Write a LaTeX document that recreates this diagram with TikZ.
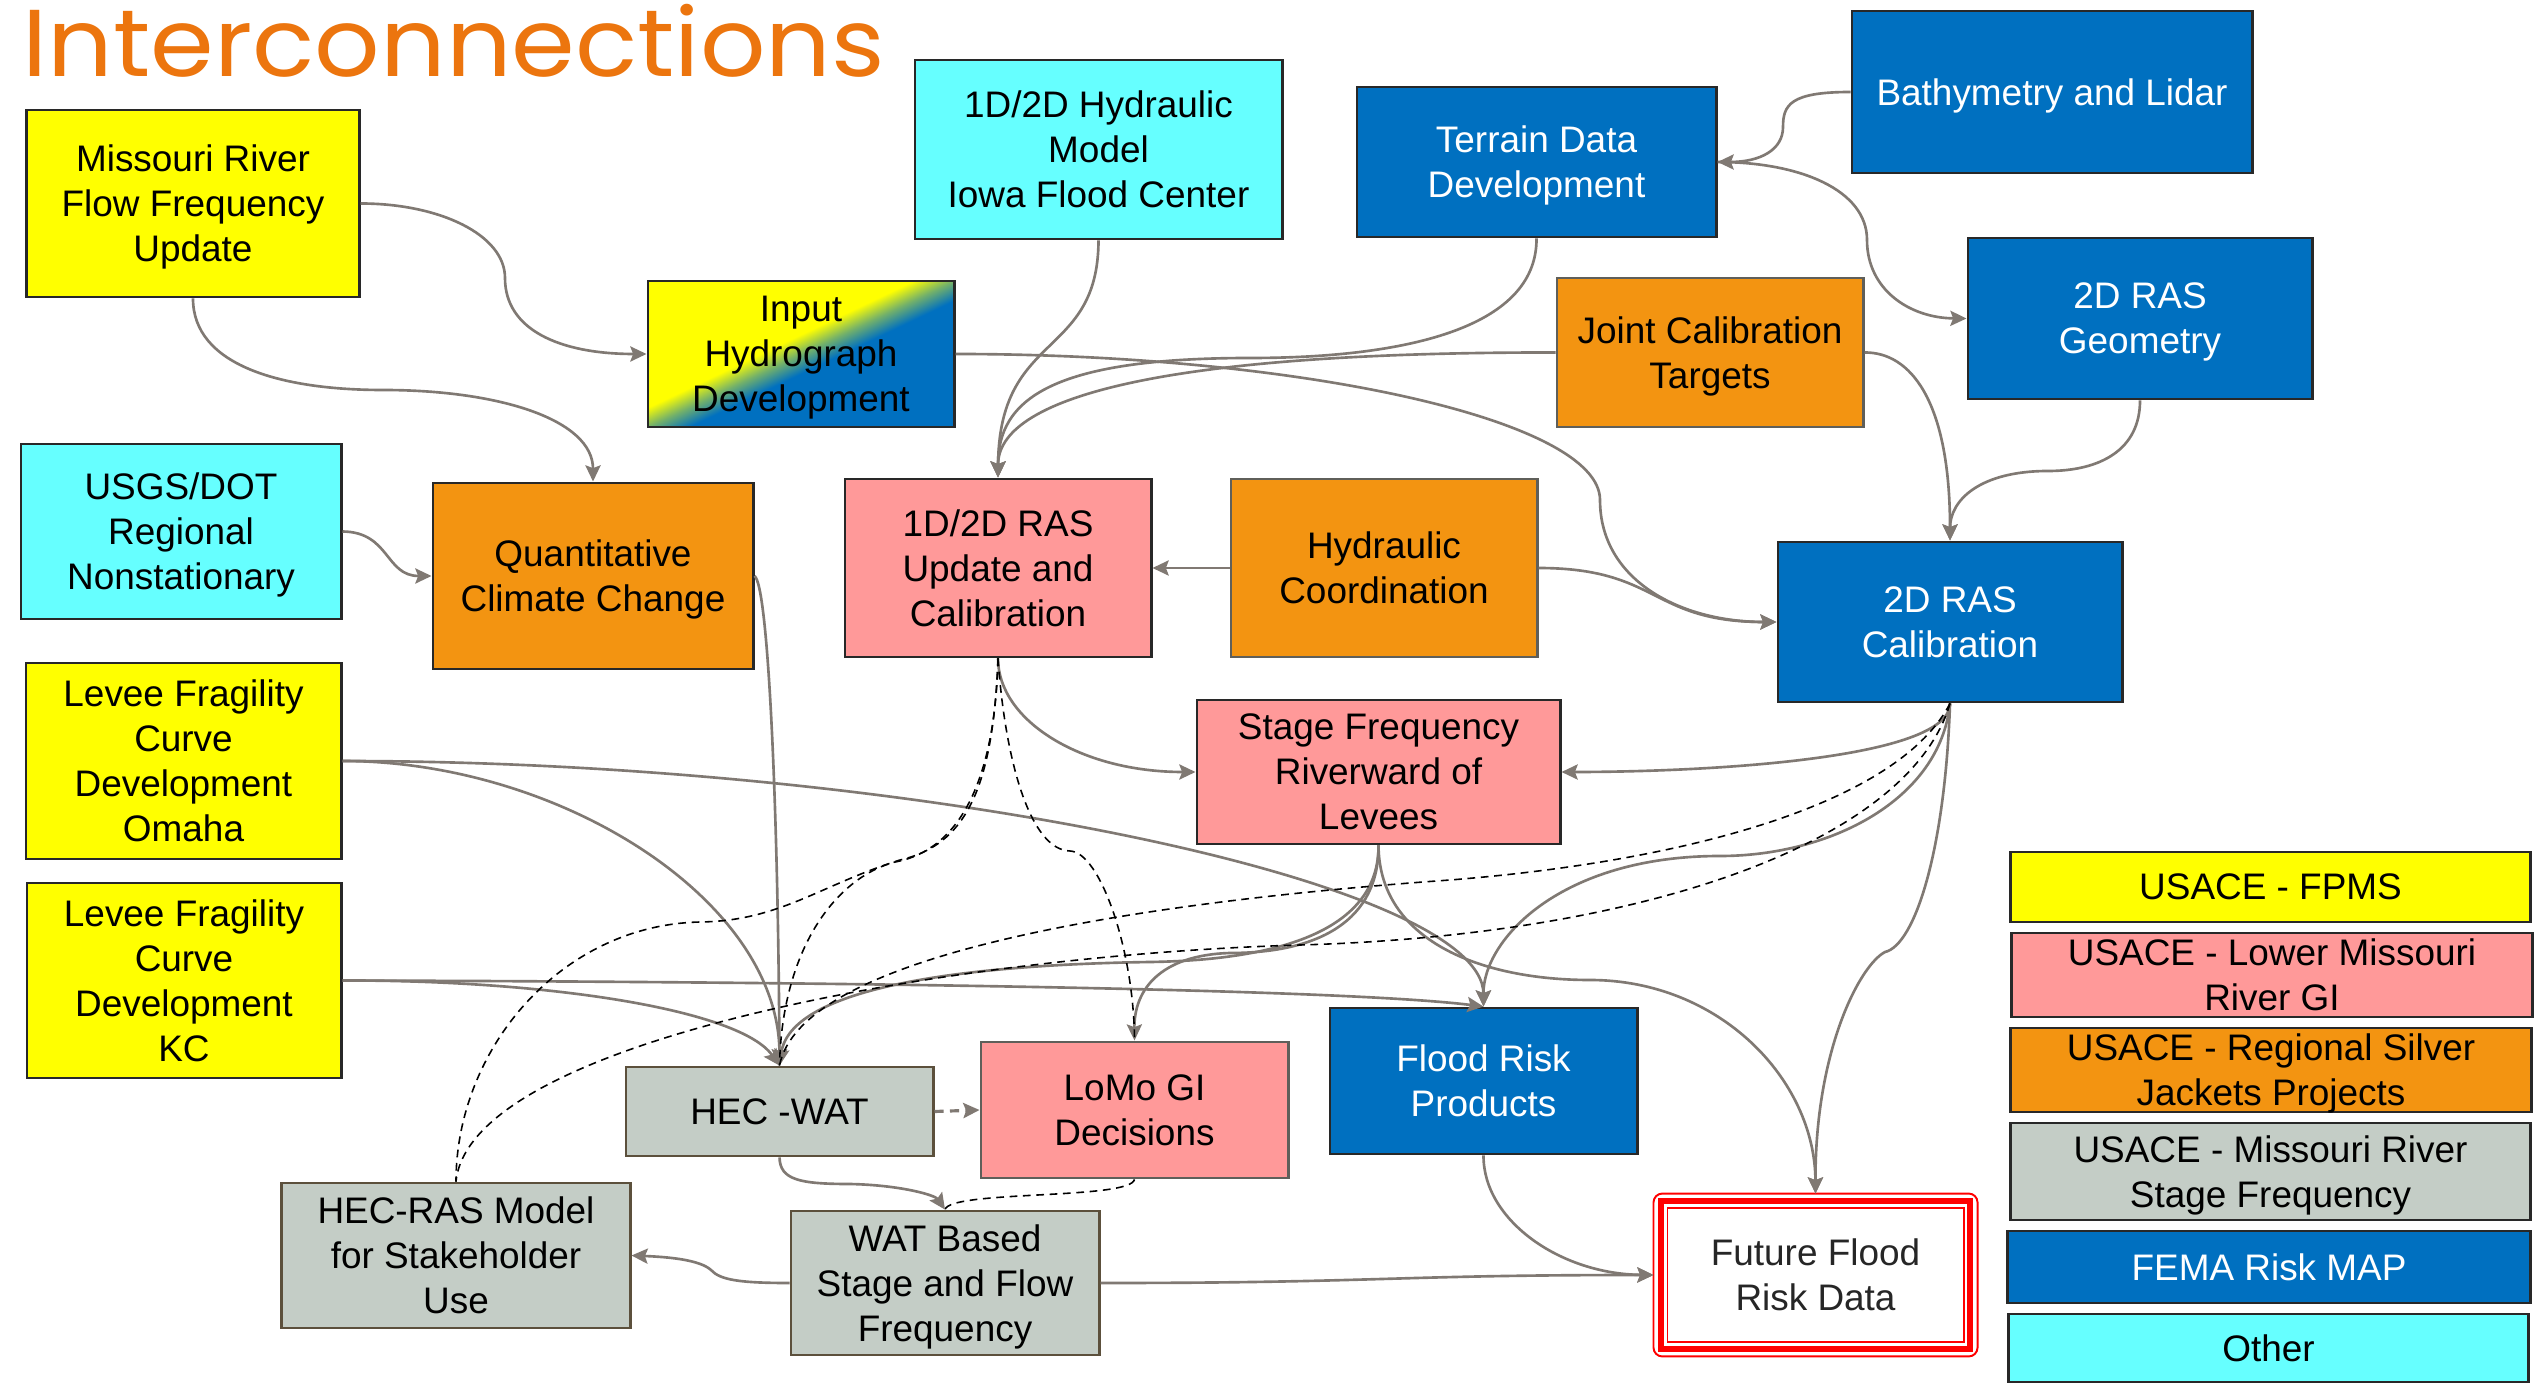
\documentclass[tikz,border=0pt]{standalone}
\usepackage{fontspec}
\setmainfont{Liberation Sans}
\newfontfamily\titlefont{Poppins}
\usetikzlibrary{arrows.meta,calc}
\definecolor{yel}{RGB}{255,255,0}
\definecolor{cyn}{RGB}{102,255,255}
\definecolor{orng}{RGB}{243,148,17}
\definecolor{pnk}{RGB}{255,153,153}
\definecolor{fblue}{RGB}{0,112,192}
\definecolor{gry}{RGB}{196,205,198}
\definecolor{cgray}{RGB}{128,121,115}
\definecolor{bdr}{RGB}{40,40,40}
\definecolor{gbdr}{RGB}{92,80,60}
\definecolor{obdr}{RGB}{95,95,90}
\definecolor{torange}{RGB}{236,117,14}
\definecolor{fred}{RGB}{255,0,0}
\pgfdeclarehorizontalshading{ybshade}{100bp}{color(0bp)=(yel); color(45.5bp)=(yel); color(50bp)=(yel!45!fblue); color(54.5bp)=(fblue); color(100bp)=(fblue)}
\tikzset{
  box/.style={draw=bdr, line width=0.8pt, inner sep=0pt, align=center, text=black,
    text depth=0pt, font=\fontsize{10.5}{12.8}\selectfont},
  ybox/.style={box, fill=yel},
  cbox/.style={box, fill=cyn},
  obox/.style={box, fill=orng, draw=obdr},
  pbox/.style={box, fill=pnk},
  bbox/.style={box, fill=fblue, text=white},
  gbox/.style={box, fill=gry, draw=gbdr},
  con/.style={draw=cgray, line width=0.75pt, -{Stealth[length=4.6pt,width=4.3pt,inset=0.8pt]}},
  dsh/.style={draw=black, line width=0.45pt, dash pattern=on 2.2pt off 1.6pt},
  cdash/.style={draw=cgray, line width=0.9pt, dash pattern=on 2.6pt off 1.8pt, -{Stealth[length=4.6pt,width=4.3pt,inset=0.8pt]}},
}
\begin{document}
\begin{tikzpicture}[x=0.01cm,y=-0.01cm]
\useasboundingbox (0,0) rectangle (2534,1383);
\fill[white] (0,0) rectangle (2534,1383);

\node[anchor=base west, inner sep=0pt, text=torange, font=\titlefont\fontsize{27}{30}\selectfont] (title) at (22,77) {\scalebox{1.08}[1]{Interconnections}};

% nodes
\node[ybox, minimum width=3.32cm, minimum height=1.87cm] (mrf) at (193,203.5) {Missouri River\\Flow Frequency\\Update};
\node[box, shade, shading=ybshade, shading angle=-64.5, minimum width=3.06cm, minimum height=1.46cm] (ihd) at (801,354) {Input\\Hydrograph\\Development};
\node[cbox, minimum width=3.67cm, minimum height=1.79cm] (hm) at (1098.5,149.5) {1D/2D Hydraulic\\Model\\Iowa Flood Center};
\node[bbox, minimum width=3.59cm, minimum height=1.50cm] (tdd) at (1536.5,162) {Terrain Data\\Development};
\node[bbox, minimum width=4.00cm, minimum height=1.62cm] (bl) at (2052,92) {Bathymetry and Lidar};
\node[bbox, minimum width=3.44cm, minimum height=1.61cm] (geo) at (2140,318.5) {2D RAS\\Geometry};
\node[obox, minimum width=3.06cm, minimum height=1.49cm] (jct) at (1710,352.5) {Joint Calibration\\Targets};
\node[obox, minimum width=3.06cm, minimum height=1.78cm] (hc) at (1384,568) {Hydraulic\\Coordination};
\node[bbox, minimum width=3.44cm, minimum height=1.60cm] (cal) at (1950,622) {2D RAS\\Calibration};
\node[pbox, minimum width=3.06cm, minimum height=1.78cm] (ras) at (998,568) {1D/2D RAS\\Update and\\Calibration};
\node[obox, draw=bdr, minimum width=3.20cm, minimum height=1.86cm] (qcc) at (593,576) {Quantitative\\Climate Change};
\node[cbox, minimum width=3.20cm, minimum height=1.75cm] (usgs) at (181,531.5) {USGS/DOT\\Regional\\Nonstationary};
\node[ybox, minimum width=3.15cm, minimum height=1.96cm] (omaha) at (183.5,761) {Levee Fragility\\Curve\\Development\\Omaha};
\node[ybox, minimum width=3.14cm, minimum height=1.95cm] (kc) at (184,980.5) {Levee Fragility\\Curve\\Development\\KC};
\node[gbox, minimum width=3.07cm, minimum height=0.89cm] (wat) at (779.5,1111.5) {HEC -WAT};
\node[gbox, minimum width=3.48cm, minimum height=1.45cm] (hrm) at (456,1255.5) {HEC-RAS Model\\for Stakeholder\\Use};
\node[gbox, minimum width=3.08cm, minimum height=1.44cm] (wsf) at (945,1283) {WAT Based\\Stage and Flow\\Frequency};
\node[pbox, draw=obdr, minimum width=3.07cm, minimum height=1.36cm] (lomo) at (1134.5,1110) {LoMo GI\\Decisions};
\node[bbox, minimum width=3.07cm, minimum height=1.46cm] (frp) at (1483.5,1081) {Flood Risk\\Products};
\node[pbox, minimum width=3.63cm, minimum height=1.44cm] (sfr) at (1378.5,772) {Stage Frequency\\Riverward of\\Levees};
\node[box, draw=none, fill=white, text=black!85, minimum width=3.21cm, minimum height=1.60cm] (ffr) at (1815.5,1275) {Future Flood\\Risk Data};
\draw[fred, line width=0.55pt, rounded corners=2.5pt] (ffr.south west) rectangle (ffr.north east);
\draw[fred, line width=1.7pt] ($(ffr.south west)+(7.5,-7.5)$) rectangle ($(ffr.north east)+(-7.5,7.5)$);
\draw[fred, line width=0.55pt] ($(ffr.south west)+(14,-14)$) rectangle ($(ffr.north east)+(-14,14)$);

% legend
\node[ybox, minimum width=5.19cm, minimum height=0.70cm] (l1) at (2270.5,887) {USACE - FPMS};
\node[pbox, minimum width=5.20cm, minimum height=0.84cm] (l2) at (2272,975) {USACE - Lower Missouri\\River GI};
\node[obox, draw=bdr, minimum width=5.20cm, minimum height=0.84cm] (l3) at (2271,1070) {USACE - Regional Silver\\Jackets Projects};
\node[gbox, draw=bdr, minimum width=5.19cm, minimum height=0.97cm] (l4) at (2270.5,1171.5) {USACE - Missouri River\\Stage Frequency};
\node[bbox, minimum width=5.22cm, minimum height=0.72cm] (l5) at (2269,1267) {FEMA Risk MAP};
\node[cbox, minimum width=5.19cm, minimum height=0.68cm] (l6) at (2268.5,1348) {Other};

% connectors
\draw[con] (mrf.east) .. controls (440,203.5) and (505,235) .. (505,278) .. controls (505,330) and (560,354) .. (ihd.west);
\draw[con] (mrf.south) .. controls (193,365) and (280,390) .. (383,390) .. controls (500,390) and (593,420) .. (qcc.north);
\draw[con] (ihd.east) .. controls (1300,354) and (1600,420) .. (1600,500) .. controls (1600,580) and (1680,622) .. (cal.west);
\draw[con] (hm.south) .. controls (1098,360) and (999,330) .. (ras.north);
\draw[con] (tdd.south) .. controls (1537,330) and (1400,358) .. (1250,358) .. controls (1050,358) and (998,400) .. (ras.north);
\draw[con] (jct.west) .. controls (1150,352) and (998,400) .. (ras.north);
\draw[con] (bl.west) .. controls (1790,92) and (1783,105) .. (1783,127) .. controls (1783,150) and (1760,162) .. (tdd.east);
\draw[con] (tdd.east) .. controls (1800,162) and (1867,190) .. (1867,240) .. controls (1867,290) and (1910,318) .. (geo.west);
\draw[con] (geo.south) .. controls (2140,450) and (2100,471) .. (2048,471) .. controls (1980,471) and (1950,500) .. (cal.north);
\draw[con] (jct.east) .. controls (1910,352) and (1950,400) .. (cal.north);
\draw[con] (hc.east) .. controls (1660,568) and (1650,622) .. (cal.west);
\draw[con] (hc.west) -- (ras.east);
\draw[con] (usgs.east) .. controls (390,532) and (385,576) .. (qcc.west);
\draw[con] (qcc.east) .. controls (768,585) and (778,800) .. (wat.north);
\draw[con] (omaha.east) .. controls (560,761) and (779,900) .. (wat.north);
\draw[con] (omaha.east) .. controls (900,761) and (1483,880) .. (frp.north);
\draw[con] (kc.east) .. controls (550,980) and (740,1010) .. (wat.north);
\draw[con] (kc.east) .. controls (900,982) and (1350,990) .. (frp.north);
\draw[con] (ras.south) .. controls (998,720) and (1080,772) .. (sfr.west);
\draw[con] (cal.south) .. controls (1950,760) and (1700,772) .. (sfr.east);
\draw[con] (cal.south) .. controls (1945,850) and (1915,945) .. (1885,952) .. controls (1860,965) and (1815,1050) .. (ffr.north);
\draw[con] (cal.south) .. controls (1940,800) and (1830,856) .. (1720,856) .. controls (1560,856) and (1483,940) .. (frp.north);
\draw[con] (sfr.south) .. controls (1379,940) and (1480,980) .. (1590,980) .. controls (1720,980) and (1815,1080) .. (ffr.north);
\draw[con] (sfr.south) .. controls (1379,920) and (1320,953) .. (1230,953) .. controls (1160,955) and (1134,990) .. (lomo.north);
\draw[con] (sfr.south) .. controls (1379,930) and (1280,960) .. (1150,962) .. controls (950,965) and (790,990) .. (wat.north);
% dashed
\draw[dsh] (ras.south) .. controls (995,780) and (960,850) .. (895,862) .. controls (835,878) and (782,950) .. (wat.north);
\draw[dsh] (ras.south) .. controls (993,790) and (965,845) .. (900,860) .. controls (820,885) and (780,921) .. (700,922) .. controls (560,925) and (456,1050) .. (hrm.north);
\draw[dsh] (ras.south) .. controls (1005,760) and (1030,850) .. (1070,851) .. controls (1100,852) and (1134,950) .. (lomo.north);
\draw[dsh] (cal.south) .. controls (1900,800) and (1700,860) .. (1450,880) .. controls (1100,905) and (800,960) .. (wat.north);
\draw[dsh] (cal.south) .. controls (1910,840) and (1650,935) .. (1300,945) .. controls (950,955) and (470,1040) .. (hrm.north);
\draw[dsh] (lomo.south) .. controls (1130,1200) and (950,1190) .. (wsf.north);
\draw[cdash] (wat.east) -- (lomo.west);
% bottom
\draw[con] (wat.south) .. controls (780,1180) and (800,1184) .. (850,1184) .. controls (900,1185) and (935,1195) .. (wsf.north);
\draw[con] (wsf.west) .. controls (740,1283) and (720,1280) .. (711,1270) .. controls (700,1260) and (670,1257) .. (hrm.east);
\draw[con] (wsf.east) .. controls (1380,1283) and (1390,1275) .. (ffr.west);
\draw[con] (frp.south) .. controls (1483,1220) and (1560,1274) .. (ffr.west);
\end{tikzpicture}
\end{document}
